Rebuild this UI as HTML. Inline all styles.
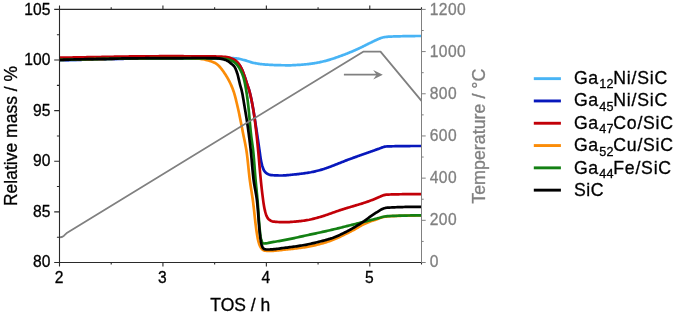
<!DOCTYPE html>
<html><head><meta charset="utf-8"><title>TGA</title>
<style>html,body{margin:0;padding:0;background:#fff}body{width:675px;height:314px;overflow:hidden}</style>
</head><body>
<svg width="675" height="314" viewBox="0 0 675 314" style="display:block;will-change:transform" font-family="&quot;Liberation Sans&quot;, sans-serif">
<rect width="675" height="314" fill="#fff"/>
<clipPath id="c"><rect x="59.5" y="9.4" width="362.0" height="253.1"/></clipPath>
<g clip-path="url(#c)" fill="none" stroke-linejoin="round" stroke-linecap="butt">
<path d="M59.50,60.20 L60.42,60.18 L61.34,60.15 L62.26,60.13 L63.18,60.11 L64.11,60.08 L65.03,60.06 L65.95,60.04 L66.87,60.01 L67.79,59.99 L68.71,59.97 L69.63,59.94 L70.55,59.92 L71.47,59.90 L72.40,59.87 L73.32,59.85 L74.24,59.83 L75.16,59.80 L76.08,59.78 L77.00,59.76 L77.92,59.74 L78.84,59.71 L79.76,59.69 L80.69,59.67 L81.61,59.64 L82.53,59.62 L83.45,59.60 L84.37,59.58 L85.29,59.55 L86.21,59.53 L87.13,59.51 L88.06,59.49 L88.98,59.46 L89.90,59.44 L90.82,59.42 L91.74,59.40 L92.66,59.38 L93.58,59.35 L94.50,59.33 L95.42,59.31 L96.35,59.29 L97.27,59.26 L98.19,59.24 L99.11,59.22 L100.03,59.20 L100.95,59.18 L101.87,59.15 L102.79,59.13 L103.71,59.11 L104.64,59.09 L105.56,59.06 L106.48,59.04 L107.40,59.02 L108.32,58.99 L109.24,58.97 L110.16,58.94 L111.08,58.92 L112.01,58.90 L112.93,58.87 L113.85,58.85 L114.77,58.83 L115.69,58.80 L116.61,58.78 L117.53,58.76 L118.45,58.73 L119.37,58.71 L120.30,58.69 L121.22,58.67 L122.14,58.64 L123.06,58.62 L123.98,58.60 L124.90,58.58 L125.82,58.56 L126.74,58.54 L127.67,58.52 L128.59,58.51 L129.51,58.49 L130.43,58.47 L131.35,58.46 L132.27,58.44 L133.19,58.43 L134.11,58.41 L135.04,58.40 L135.96,58.39 L136.88,58.37 L137.80,58.36 L138.72,58.35 L139.64,58.34 L140.56,58.32 L141.48,58.31 L142.41,58.30 L143.33,58.29 L144.25,58.27 L145.17,58.26 L146.09,58.25 L147.01,58.24 L147.93,58.22 L148.86,58.21 L149.78,58.20 L150.70,58.19 L151.62,58.18 L152.54,58.16 L153.46,58.15 L154.38,58.14 L155.30,58.13 L156.23,58.12 L157.15,58.11 L158.07,58.10 L158.99,58.08 L159.91,58.07 L160.83,58.06 L161.75,58.05 L162.68,58.04 L163.60,58.03 L164.52,58.02 L165.44,58.01 L166.36,58.00 L167.28,57.99 L168.20,57.98 L169.13,57.97 L170.05,57.96 L170.97,57.95 L171.89,57.94 L172.81,57.94 L173.73,57.93 L174.65,57.92 L175.58,57.91 L176.50,57.90 L177.42,57.90 L178.34,57.89 L179.26,57.88 L180.18,57.88 L181.10,57.87 L182.03,57.86 L182.95,57.86 L183.87,57.85 L184.79,57.85 L185.71,57.84 L186.63,57.84 L187.55,57.83 L188.48,57.83 L189.40,57.82 L190.32,57.82 L191.24,57.82 L192.16,57.81 L193.08,57.81 L194.00,57.81 L194.93,57.81 L195.85,57.80 L196.77,57.80 L197.69,57.80 L198.61,57.80 L199.53,57.80 L200.45,57.80 L201.38,57.80 L202.30,57.80 L203.22,57.80 L204.14,57.80 L205.06,57.80 L205.98,57.80 L206.90,57.80 L207.83,57.80 L208.75,57.80 L209.67,57.80 L210.59,57.80 L211.51,57.80 L212.43,57.80 L213.36,57.80 L214.28,57.80 L215.20,57.80 L216.12,57.80 L217.04,57.80 L217.96,57.80 L218.89,57.80 L219.81,57.80 L220.73,57.80 L221.65,57.80 L222.57,57.80 L223.49,57.80 L224.41,57.80 L225.33,57.80 L226.25,57.81 L227.18,57.83 L228.10,57.86 L229.02,57.90 L229.95,57.95 L230.87,58.00 L231.79,58.06 L232.71,58.13 L233.63,58.20 L234.54,58.27 L235.46,58.35 L236.37,58.44 L237.28,58.55 L238.18,58.69 L239.09,58.86 L239.99,59.05 L240.90,59.26 L241.80,59.48 L242.69,59.71 L243.59,59.94 L244.48,60.17 L245.38,60.40 L246.26,60.65 L247.14,60.92 L248.02,61.21 L248.90,61.51 L249.78,61.81 L250.65,62.10 L251.53,62.38 L252.42,62.63 L253.31,62.86 L254.20,63.04 L255.10,63.20 L256.01,63.36 L256.91,63.52 L257.82,63.66 L258.74,63.80 L259.65,63.94 L260.57,64.06 L261.49,64.17 L262.40,64.28 L263.32,64.38 L264.24,64.46 L265.16,64.54 L266.08,64.61 L267.00,64.66 L267.91,64.72 L268.83,64.77 L269.75,64.83 L270.67,64.87 L271.59,64.92 L272.51,64.96 L273.44,65.00 L274.36,65.04 L275.28,65.08 L276.20,65.11 L277.12,65.13 L278.04,65.16 L278.97,65.18 L279.89,65.20 L280.81,65.21 L281.73,65.23 L282.65,65.24 L283.57,65.26 L284.49,65.27 L285.42,65.28 L286.34,65.29 L287.26,65.29 L288.18,65.30 L289.10,65.30 L290.02,65.29 L290.94,65.28 L291.86,65.25 L292.79,65.22 L293.71,65.18 L294.63,65.13 L295.55,65.08 L296.47,65.02 L297.39,64.97 L298.31,64.91 L299.23,64.85 L300.15,64.79 L301.07,64.73 L301.98,64.66 L302.90,64.59 L303.82,64.51 L304.74,64.43 L305.66,64.34 L306.58,64.25 L307.50,64.15 L308.41,64.05 L309.33,63.94 L310.24,63.83 L311.15,63.71 L312.06,63.59 L312.98,63.46 L313.88,63.33 L314.79,63.18 L315.70,63.02 L316.61,62.85 L317.52,62.68 L318.42,62.50 L319.33,62.31 L320.23,62.11 L321.13,61.91 L322.03,61.71 L322.93,61.50 L323.82,61.29 L324.72,61.07 L325.61,60.85 L326.50,60.62 L327.38,60.37 L328.27,60.12 L329.15,59.86 L330.03,59.60 L330.92,59.32 L331.79,59.04 L332.67,58.75 L333.55,58.46 L334.42,58.16 L335.30,57.86 L336.17,57.56 L337.04,57.25 L337.91,56.94 L338.78,56.63 L339.65,56.33 L340.51,56.02 L341.38,55.70 L342.24,55.39 L343.11,55.07 L343.97,54.74 L344.83,54.41 L345.69,54.08 L346.55,53.75 L347.41,53.41 L348.26,53.06 L349.12,52.72 L349.97,52.37 L350.82,52.02 L351.68,51.66 L352.53,51.30 L353.37,50.94 L354.22,50.58 L355.06,50.21 L355.91,49.84 L356.75,49.47 L357.58,49.09 L358.42,48.70 L359.25,48.30 L360.08,47.90 L360.91,47.50 L361.73,47.09 L362.56,46.68 L363.38,46.26 L364.21,45.85 L365.03,45.44 L365.86,45.02 L366.68,44.61 L367.51,44.20 L368.34,43.80 L369.17,43.40 L370.00,43.00 L370.83,42.60 L371.66,42.20 L372.49,41.79 L373.32,41.38 L374.15,40.96 L374.98,40.56 L375.81,40.16 L376.65,39.77 L377.49,39.40 L378.33,39.04 L379.19,38.70 L380.04,38.38 L380.91,38.07 L381.79,37.77 L382.68,37.50 L383.57,37.28 L384.47,37.13 L385.38,37.00 L386.29,36.89 L387.21,36.79 L388.13,36.71 L389.06,36.65 L389.98,36.60 L390.90,36.57 L391.81,36.53 L392.73,36.50 L393.65,36.47 L394.57,36.44 L395.49,36.41 L396.41,36.38 L397.33,36.35 L398.25,36.33 L399.17,36.30 L400.09,36.28 L401.01,36.25 L401.93,36.23 L402.85,36.21 L403.77,36.19 L404.69,36.17 L405.61,36.15 L406.53,36.13 L407.45,36.12 L408.38,36.10 L409.30,36.09 L410.22,36.08 L411.14,36.06 L412.06,36.05 L412.99,36.04 L413.91,36.03 L414.83,36.03 L415.76,36.02 L416.68,36.01 L417.60,36.01 L418.53,36.00 L419.45,36.00 L420.38,36.00 L421.30,36.00" stroke="#48b4f5" stroke-width="2.7"/>
<path d="M59.50,60.20 L60.64,60.18 L61.78,60.16 L62.91,60.14 L64.05,60.12 L65.19,60.10 L66.33,60.07 L67.46,60.05 L68.60,60.03 L69.74,60.01 L70.88,59.99 L72.01,59.97 L73.15,59.94 L74.29,59.92 L75.43,59.90 L76.56,59.88 L77.70,59.86 L78.84,59.83 L79.98,59.81 L81.11,59.79 L82.25,59.77 L83.39,59.74 L84.53,59.72 L85.66,59.70 L86.80,59.67 L87.94,59.65 L89.08,59.63 L90.21,59.60 L91.35,59.58 L92.49,59.56 L93.63,59.53 L94.76,59.51 L95.90,59.49 L97.04,59.46 L98.18,59.44 L99.31,59.41 L100.45,59.39 L101.59,59.36 L102.73,59.34 L103.87,59.31 L105.00,59.28 L106.14,59.25 L107.28,59.22 L108.41,59.19 L109.55,59.16 L110.69,59.13 L111.83,59.09 L112.96,59.06 L114.10,59.03 L115.24,59.00 L116.38,58.96 L117.51,58.93 L118.65,58.90 L119.79,58.87 L120.93,58.84 L122.06,58.81 L123.20,58.79 L124.34,58.76 L125.48,58.74 L126.61,58.71 L127.75,58.69 L128.89,58.67 L130.03,58.65 L131.16,58.64 L132.30,58.62 L133.44,58.61 L134.58,58.60 L135.71,58.60 L136.85,58.59 L137.99,58.58 L139.13,58.58 L140.27,58.57 L141.40,58.56 L142.54,58.56 L143.68,58.55 L144.82,58.55 L145.95,58.54 L147.09,58.53 L148.23,58.53 L149.37,58.52 L150.50,58.52 L151.64,58.51 L152.78,58.51 L153.92,58.50 L155.06,58.50 L156.19,58.49 L157.33,58.49 L158.47,58.48 L159.61,58.48 L160.74,58.48 L161.88,58.47 L163.02,58.47 L164.16,58.46 L165.30,58.46 L166.43,58.46 L167.57,58.45 L168.71,58.45 L169.85,58.45 L170.99,58.44 L172.12,58.44 L173.26,58.44 L174.40,58.43 L175.54,58.43 L176.67,58.43 L177.81,58.42 L178.95,58.42 L180.09,58.42 L181.23,58.42 L182.36,58.42 L183.50,58.41 L184.64,58.41 L185.78,58.41 L186.92,58.41 L188.05,58.41 L189.19,58.41 L190.33,58.40 L191.47,58.40 L192.60,58.40 L193.74,58.40 L194.88,58.40 L196.02,58.40 L197.16,58.40 L198.29,58.40 L199.43,58.40 L200.57,58.40 L201.71,58.40 L202.85,58.40 L203.99,58.40 L205.13,58.40 L206.27,58.41 L207.41,58.41 L208.55,58.41 L209.69,58.42 L210.82,58.42 L211.96,58.43 L213.10,58.43 L214.24,58.44 L215.38,58.45 L216.52,58.45 L217.65,58.46 L218.79,58.47 L219.92,58.48 L221.05,58.49 L222.19,58.50 L223.32,58.55 L224.46,58.64 L225.60,58.78 L226.74,58.95 L227.87,59.14 L228.99,59.36 L230.10,59.60 L231.19,59.84 L232.29,60.15 L233.41,60.53 L234.51,60.99 L235.55,61.50 L236.50,62.06 L237.35,62.67 L238.13,63.42 L238.87,64.29 L239.56,65.25 L240.20,66.26 L240.79,67.28 L241.34,68.28 L241.84,69.27 L242.31,70.30 L242.75,71.35 L243.17,72.42 L243.57,73.50 L243.95,74.58 L244.34,75.66 L244.72,76.73 L245.09,77.81 L245.45,78.89 L245.79,79.97 L246.14,81.06 L246.48,82.14 L246.82,83.23 L247.17,84.31 L247.54,85.39 L247.91,86.46 L248.29,87.54 L248.67,88.62 L249.02,89.70 L249.34,90.78 L249.63,91.88 L249.91,92.98 L250.18,94.08 L250.44,95.19 L250.70,96.30 L250.94,97.41 L251.18,98.52 L251.41,99.64 L251.63,100.76 L251.85,101.88 L252.07,102.99 L252.28,104.12 L252.49,105.24 L252.70,106.36 L252.90,107.47 L253.11,108.59 L253.31,109.71 L253.50,110.83 L253.69,111.95 L253.88,113.08 L254.06,114.20 L254.24,115.32 L254.41,116.45 L254.59,117.57 L254.76,118.70 L254.93,119.82 L255.10,120.95 L255.28,122.07 L255.45,123.20 L255.62,124.32 L255.79,125.45 L255.97,126.57 L256.14,127.70 L256.31,128.82 L256.48,129.95 L256.65,131.07 L256.82,132.20 L256.99,133.32 L257.16,134.45 L257.33,135.57 L257.50,136.70 L257.66,137.82 L257.83,138.95 L258.00,140.07 L258.16,141.20 L258.33,142.33 L258.49,143.45 L258.66,144.58 L258.82,145.70 L258.99,146.83 L259.15,147.95 L259.32,149.08 L259.48,150.21 L259.65,151.33 L259.81,152.46 L259.96,153.59 L260.11,154.72 L260.26,155.85 L260.42,156.97 L260.58,158.10 L260.76,159.22 L260.96,160.34 L261.18,161.46 L261.42,162.57 L261.68,163.68 L261.96,164.79 L262.26,165.88 L262.60,166.97 L262.96,168.08 L263.38,169.16 L263.85,170.19 L264.41,171.12 L265.13,172.02 L265.97,172.85 L266.88,173.53 L267.84,174.07 L268.91,174.56 L270.02,174.93 L271.13,175.11 L272.23,175.20 L273.35,175.27 L274.49,175.33 L275.63,175.39 L276.78,175.43 L277.93,175.46 L279.08,175.49 L280.22,175.50 L281.36,175.50 L282.50,175.48 L283.63,175.44 L284.77,175.38 L285.90,175.30 L287.04,175.21 L288.17,175.11 L289.31,175.00 L290.44,174.88 L291.58,174.76 L292.71,174.64 L293.84,174.52 L294.97,174.40 L296.11,174.29 L297.24,174.17 L298.37,174.04 L299.50,173.91 L300.63,173.78 L301.76,173.63 L302.89,173.49 L304.02,173.33 L305.15,173.17 L306.27,173.00 L307.40,172.83 L308.52,172.65 L309.64,172.46 L310.76,172.27 L311.87,172.05 L312.99,171.82 L314.10,171.58 L315.22,171.33 L316.32,171.06 L317.43,170.78 L318.53,170.50 L319.63,170.20 L320.72,169.90 L321.80,169.59 L322.89,169.26 L323.97,168.92 L325.05,168.57 L326.12,168.21 L327.20,167.84 L328.27,167.46 L329.33,167.07 L330.40,166.67 L331.47,166.27 L332.53,165.86 L333.59,165.45 L334.65,165.03 L335.71,164.61 L336.77,164.19 L337.83,163.76 L338.89,163.34 L339.95,162.91 L341.01,162.48 L342.07,162.06 L343.13,161.63 L344.19,161.21 L345.25,160.80 L346.32,160.38 L347.38,159.98 L348.45,159.57 L349.51,159.18 L350.58,158.79 L351.65,158.40 L352.72,158.02 L353.79,157.63 L354.86,157.25 L355.94,156.87 L357.01,156.48 L358.08,156.10 L359.15,155.72 L360.23,155.34 L361.30,154.97 L362.37,154.59 L363.44,154.21 L364.52,153.83 L365.59,153.45 L366.66,153.07 L367.74,152.69 L368.81,152.31 L369.88,151.93 L370.95,151.55 L372.03,151.17 L373.10,150.79 L374.17,150.41 L375.24,150.02 L376.31,149.64 L377.38,149.25 L378.45,148.86 L379.52,148.48 L380.59,148.07 L381.64,147.63 L382.71,147.23 L383.80,146.93 L384.91,146.68 L386.04,146.48 L387.17,146.40 L388.29,146.36 L389.42,146.33 L390.55,146.31 L391.68,146.28 L392.81,146.25 L393.94,146.23 L395.07,146.21 L396.20,146.19 L397.33,146.17 L398.47,146.15 L399.60,146.13 L400.73,146.12 L401.87,146.10 L403.00,146.09 L404.14,146.08 L405.28,146.07 L406.41,146.06 L407.55,146.05 L408.69,146.04 L409.83,146.03 L410.98,146.02 L412.12,146.02 L413.26,146.01 L414.41,146.01 L415.55,146.01 L416.70,146.00 L417.85,146.00 L419.00,146.00 L420.15,146.00 L421.30,146.00" stroke="#0818bc" stroke-width="2.7"/>
<path d="M59.50,57.70 L60.75,57.68 L62.00,57.66 L63.25,57.64 L64.49,57.61 L65.74,57.59 L66.99,57.57 L68.24,57.55 L69.49,57.53 L70.74,57.51 L71.98,57.48 L73.23,57.46 L74.48,57.44 L75.73,57.42 L76.98,57.40 L78.23,57.38 L79.47,57.35 L80.72,57.33 L81.97,57.31 L83.22,57.29 L84.47,57.27 L85.72,57.25 L86.96,57.22 L88.21,57.20 L89.46,57.18 L90.71,57.16 L91.96,57.14 L93.21,57.12 L94.46,57.10 L95.70,57.07 L96.95,57.05 L98.20,57.03 L99.45,57.01 L100.70,56.99 L101.95,56.97 L103.19,56.94 L104.44,56.92 L105.69,56.90 L106.94,56.87 L108.19,56.85 L109.44,56.82 L110.68,56.80 L111.93,56.77 L113.18,56.75 L114.43,56.72 L115.68,56.70 L116.93,56.67 L118.17,56.65 L119.42,56.63 L120.67,56.60 L121.92,56.58 L123.17,56.56 L124.42,56.54 L125.67,56.52 L126.91,56.50 L128.16,56.48 L129.41,56.46 L130.66,56.45 L131.91,56.43 L133.16,56.42 L134.40,56.41 L135.65,56.39 L136.90,56.38 L138.15,56.37 L139.40,56.36 L140.65,56.35 L141.90,56.34 L143.14,56.33 L144.39,56.32 L145.64,56.31 L146.89,56.30 L148.14,56.29 L149.39,56.28 L150.64,56.27 L151.88,56.27 L153.13,56.26 L154.38,56.25 L155.63,56.24 L156.88,56.24 L158.13,56.23 L159.38,56.22 L160.62,56.22 L161.87,56.21 L163.12,56.21 L164.37,56.21 L165.62,56.20 L166.87,56.20 L168.12,56.20 L169.36,56.20 L170.61,56.20 L171.86,56.20 L173.11,56.20 L174.36,56.20 L175.61,56.20 L176.86,56.21 L178.10,56.21 L179.35,56.21 L180.60,56.22 L181.85,56.22 L183.10,56.22 L184.35,56.23 L185.60,56.23 L186.84,56.24 L188.09,56.24 L189.34,56.25 L190.59,56.25 L191.84,56.26 L193.09,56.26 L194.34,56.27 L195.58,56.28 L196.83,56.28 L198.08,56.29 L199.33,56.30 L200.58,56.30 L201.83,56.31 L203.08,56.32 L204.33,56.33 L205.57,56.34 L206.82,56.35 L208.07,56.36 L209.32,56.37 L210.57,56.38 L211.82,56.40 L213.07,56.41 L214.32,56.43 L215.56,56.45 L216.81,56.48 L218.06,56.50 L219.31,56.54 L220.56,56.59 L221.82,56.66 L223.07,56.74 L224.31,56.84 L225.54,56.95 L226.77,57.10 L228.01,57.33 L229.24,57.65 L230.45,58.02 L231.64,58.44 L232.77,58.90 L233.88,59.43 L234.95,60.11 L235.98,60.88 L236.90,61.70 L237.74,62.58 L238.53,63.54 L239.27,64.56 L239.97,65.64 L240.62,66.73 L241.21,67.83 L241.76,68.93 L242.26,70.06 L242.73,71.22 L243.18,72.39 L243.61,73.58 L244.02,74.76 L244.44,75.95 L244.85,77.12 L245.25,78.31 L245.64,79.49 L246.02,80.68 L246.39,81.88 L246.77,83.07 L247.15,84.25 L247.55,85.44 L247.97,86.62 L248.39,87.80 L248.79,88.98 L249.16,90.17 L249.50,91.37 L249.81,92.57 L250.11,93.78 L250.41,94.99 L250.69,96.21 L250.96,97.43 L251.23,98.65 L251.48,99.88 L251.73,101.10 L251.97,102.33 L252.21,103.56 L252.43,104.79 L252.65,106.02 L252.87,107.25 L253.08,108.48 L253.29,109.71 L253.49,110.94 L253.68,112.17 L253.87,113.41 L254.05,114.64 L254.23,115.88 L254.41,117.12 L254.58,118.35 L254.74,119.59 L254.91,120.83 L255.07,122.07 L255.23,123.31 L255.38,124.55 L255.53,125.79 L255.68,127.02 L255.83,128.26 L255.98,129.50 L256.12,130.74 L256.26,131.98 L256.40,133.23 L256.53,134.47 L256.67,135.71 L256.80,136.95 L256.93,138.19 L257.06,139.43 L257.18,140.68 L257.31,141.92 L257.43,143.16 L257.56,144.40 L257.68,145.65 L257.80,146.89 L257.92,148.13 L258.04,149.38 L258.16,150.62 L258.28,151.86 L258.40,153.10 L258.51,154.35 L258.63,155.59 L258.74,156.83 L258.84,158.08 L258.95,159.32 L259.06,160.57 L259.16,161.81 L259.27,163.06 L259.37,164.30 L259.48,165.54 L259.58,166.79 L259.69,168.03 L259.80,169.28 L259.91,170.52 L260.02,171.76 L260.13,173.01 L260.24,174.25 L260.36,175.49 L260.48,176.74 L260.60,177.98 L260.72,179.22 L260.85,180.46 L260.97,181.71 L261.10,182.95 L261.23,184.19 L261.36,185.43 L261.49,186.68 L261.63,187.92 L261.77,189.16 L261.91,190.40 L262.06,191.64 L262.21,192.88 L262.36,194.12 L262.52,195.35 L262.68,196.59 L262.84,197.83 L263.00,199.08 L263.16,200.32 L263.33,201.57 L263.50,202.81 L263.68,204.06 L263.88,205.29 L264.09,206.52 L264.32,207.74 L264.57,208.95 L264.84,210.15 L265.14,211.40 L265.48,212.68 L265.86,213.98 L266.30,215.24 L266.78,216.44 L267.32,217.52 L267.92,218.45 L268.63,219.24 L269.60,220.01 L270.75,220.71 L271.99,221.26 L273.22,221.58 L274.39,221.70 L275.60,221.81 L276.83,221.91 L278.08,221.99 L279.34,222.06 L280.62,222.12 L281.89,222.16 L283.16,222.18 L284.42,222.20 L285.67,222.20 L286.92,222.17 L288.17,222.11 L289.41,222.04 L290.66,221.95 L291.91,221.85 L293.15,221.75 L294.40,221.65 L295.64,221.55 L296.89,221.44 L298.13,221.32 L299.38,221.19 L300.62,221.05 L301.86,220.90 L303.10,220.74 L304.34,220.57 L305.57,220.39 L306.80,220.20 L308.02,219.99 L309.25,219.76 L310.47,219.50 L311.69,219.22 L312.90,218.93 L314.12,218.62 L315.33,218.30 L316.54,217.97 L317.74,217.63 L318.95,217.30 L320.15,216.96 L321.34,216.61 L322.53,216.25 L323.72,215.88 L324.91,215.49 L326.09,215.09 L327.27,214.68 L328.45,214.27 L329.63,213.85 L330.80,213.43 L331.98,213.01 L333.16,212.58 L334.33,212.16 L335.51,211.74 L336.69,211.32 L337.87,210.91 L339.05,210.51 L340.24,210.12 L341.43,209.74 L342.62,209.36 L343.81,208.99 L345.01,208.62 L346.20,208.26 L347.40,207.90 L348.60,207.54 L349.80,207.19 L351.00,206.83 L352.20,206.48 L353.40,206.12 L354.60,205.77 L355.79,205.41 L356.99,205.06 L358.19,204.70 L359.38,204.33 L360.58,203.96 L361.77,203.59 L362.96,203.21 L364.14,202.83 L365.33,202.44 L366.51,202.04 L367.68,201.63 L368.86,201.22 L370.03,200.79 L371.19,200.35 L372.35,199.88 L373.50,199.40 L374.65,198.90 L375.79,198.40 L376.94,197.90 L378.08,197.41 L379.23,196.92 L380.39,196.44 L381.54,195.92 L382.69,195.44 L383.88,195.11 L385.11,194.84 L386.35,194.65 L387.59,194.58 L388.82,194.54 L390.06,194.50 L391.30,194.46 L392.54,194.43 L393.78,194.40 L395.02,194.37 L396.26,194.34 L397.50,194.31 L398.75,194.29 L399.99,194.26 L401.24,194.24 L402.48,194.22 L403.73,194.21 L404.97,194.19 L406.22,194.17 L407.47,194.16 L408.72,194.15 L409.98,194.14 L411.23,194.13 L412.48,194.12 L413.74,194.12 L415.00,194.11 L416.25,194.11 L417.51,194.10 L418.77,194.10 L420.04,194.10 L421.30,194.10" stroke="#c20008" stroke-width="2.7"/>
<path d="M59.50,59.90 L60.80,59.87 L62.09,59.85 L63.39,59.82 L64.68,59.80 L65.98,59.77 L67.28,59.75 L68.57,59.72 L69.87,59.70 L71.16,59.67 L72.46,59.65 L73.76,59.62 L75.05,59.59 L76.35,59.57 L77.65,59.54 L78.94,59.52 L80.24,59.49 L81.53,59.47 L82.83,59.44 L84.13,59.41 L85.42,59.39 L86.72,59.36 L88.01,59.34 L89.31,59.31 L90.61,59.29 L91.90,59.26 L93.20,59.24 L94.49,59.21 L95.79,59.18 L97.09,59.16 L98.38,59.13 L99.68,59.11 L100.97,59.08 L102.27,59.05 L103.57,59.03 L104.86,59.00 L106.16,58.97 L107.45,58.94 L108.75,58.91 L110.05,58.88 L111.34,58.85 L112.64,58.82 L113.94,58.80 L115.23,58.77 L116.53,58.74 L117.82,58.71 L119.12,58.68 L120.42,58.65 L121.71,58.63 L123.01,58.60 L124.30,58.57 L125.60,58.55 L126.90,58.52 L128.19,58.50 L129.49,58.48 L130.78,58.46 L132.08,58.44 L133.38,58.42 L134.67,58.40 L135.97,58.39 L137.27,58.37 L138.56,58.36 L139.86,58.34 L141.15,58.33 L142.45,58.31 L143.75,58.29 L145.04,58.28 L146.34,58.26 L147.64,58.25 L148.93,58.23 L150.23,58.22 L151.53,58.20 L152.82,58.19 L154.12,58.18 L155.42,58.16 L156.71,58.15 L158.01,58.14 L159.31,58.13 L160.60,58.11 L161.90,58.10 L163.19,58.09 L164.49,58.08 L165.79,58.07 L167.08,58.06 L168.38,58.05 L169.68,58.04 L170.97,58.04 L172.27,58.03 L173.57,58.02 L174.86,58.02 L176.16,58.01 L177.45,58.01 L178.75,58.00 L180.04,58.00 L181.34,58.00 L182.64,58.00 L183.93,58.00 L185.23,58.02 L186.53,58.04 L187.83,58.08 L189.13,58.12 L190.43,58.17 L191.73,58.24 L193.03,58.31 L194.32,58.38 L195.61,58.47 L196.91,58.56 L198.19,58.66 L199.48,58.76 L200.76,58.87 L202.04,59.05 L203.31,59.27 L204.59,59.54 L205.86,59.85 L207.12,60.18 L208.38,60.53 L209.62,60.89 L210.86,61.26 L212.13,61.68 L213.37,62.15 L214.55,62.68 L215.62,63.28 L216.63,63.95 L217.60,64.73 L218.54,65.59 L219.46,66.51 L220.34,67.50 L221.20,68.54 L222.02,69.61 L222.83,70.71 L223.60,71.81 L224.35,72.92 L225.07,74.02 L225.76,75.10 L226.44,76.17 L227.10,77.27 L227.75,78.39 L228.39,79.52 L229.01,80.68 L229.61,81.84 L230.19,83.02 L230.75,84.21 L231.29,85.40 L231.80,86.60 L232.30,87.81 L232.76,89.02 L233.20,90.23 L233.62,91.44 L234.01,92.66 L234.39,93.90 L234.75,95.14 L235.09,96.39 L235.42,97.65 L235.74,98.91 L236.05,100.18 L236.36,101.45 L236.66,102.71 L236.96,103.98 L237.26,105.24 L237.55,106.50 L237.84,107.76 L238.13,109.03 L238.41,110.29 L238.69,111.56 L238.96,112.82 L239.23,114.09 L239.49,115.36 L239.76,116.63 L240.02,117.90 L240.28,119.17 L240.53,120.44 L240.78,121.71 L241.04,122.99 L241.29,124.26 L241.54,125.53 L241.79,126.81 L242.04,128.08 L242.29,129.35 L242.54,130.62 L242.79,131.90 L243.04,133.17 L243.29,134.44 L243.54,135.71 L243.80,136.98 L244.07,138.25 L244.33,139.52 L244.60,140.79 L244.86,142.06 L245.12,143.33 L245.38,144.61 L245.62,145.88 L245.86,147.15 L246.09,148.43 L246.30,149.71 L246.50,150.98 L246.68,152.26 L246.86,153.55 L247.02,154.83 L247.19,156.12 L247.34,157.40 L247.49,158.69 L247.63,159.98 L247.77,161.27 L247.91,162.56 L248.04,163.85 L248.17,165.14 L248.30,166.43 L248.43,167.72 L248.56,169.01 L248.70,170.30 L248.83,171.59 L248.97,172.88 L249.11,174.17 L249.25,175.46 L249.40,176.75 L249.55,178.04 L249.71,179.32 L249.88,180.61 L250.06,181.89 L250.24,183.17 L250.43,184.46 L250.62,185.74 L250.82,187.02 L251.01,188.30 L251.22,189.58 L251.42,190.86 L251.62,192.14 L251.82,193.42 L252.02,194.71 L252.22,195.99 L252.41,197.27 L252.60,198.55 L252.78,199.84 L252.95,201.12 L253.12,202.41 L253.28,203.69 L253.44,204.98 L253.59,206.27 L253.75,207.56 L253.89,208.85 L254.04,210.14 L254.18,211.43 L254.32,212.72 L254.46,214.01 L254.60,215.30 L254.74,216.59 L254.88,217.88 L255.03,219.17 L255.17,220.46 L255.32,221.75 L255.47,223.04 L255.62,224.33 L255.78,225.61 L255.95,226.90 L256.11,228.18 L256.29,229.46 L256.47,230.75 L256.66,232.03 L256.86,233.30 L257.06,234.58 L257.27,235.85 L257.50,237.13 L257.74,238.41 L258.00,239.70 L258.29,240.97 L258.62,242.22 L258.98,243.44 L259.41,244.68 L259.93,245.92 L260.54,247.11 L261.23,248.17 L262.06,249.10 L263.12,250.00 L264.29,250.56 L265.48,250.70 L266.77,250.80 L268.10,250.86 L269.43,250.90 L270.73,250.89 L272.03,250.86 L273.32,250.79 L274.61,250.71 L275.90,250.60 L277.19,250.47 L278.49,250.33 L279.78,250.18 L281.07,250.04 L282.36,249.89 L283.65,249.74 L284.94,249.61 L286.23,249.48 L287.52,249.35 L288.81,249.21 L290.10,249.08 L291.39,248.94 L292.68,248.80 L293.97,248.66 L295.26,248.51 L296.55,248.35 L297.83,248.20 L299.12,248.03 L300.41,247.86 L301.69,247.69 L302.97,247.50 L304.25,247.31 L305.53,247.12 L306.80,246.90 L308.08,246.68 L309.36,246.43 L310.63,246.18 L311.90,245.91 L313.17,245.64 L314.44,245.35 L315.70,245.06 L316.96,244.75 L318.21,244.45 L319.47,244.13 L320.72,243.80 L321.98,243.45 L323.23,243.10 L324.47,242.73 L325.72,242.35 L326.96,241.96 L328.19,241.56 L329.42,241.14 L330.64,240.72 L331.85,240.28 L333.06,239.83 L334.26,239.35 L335.45,238.85 L336.64,238.34 L337.82,237.80 L339.00,237.26 L340.18,236.70 L341.35,236.14 L342.52,235.57 L343.68,234.99 L344.85,234.41 L346.01,233.84 L347.17,233.26 L348.34,232.69 L349.49,232.10 L350.65,231.51 L351.80,230.91 L352.94,230.31 L354.09,229.69 L355.23,229.08 L356.35,228.44 L357.47,227.78 L358.59,227.11 L359.70,226.44 L360.82,225.78 L361.95,225.15 L363.09,224.55 L364.26,223.99 L365.44,223.45 L366.63,222.94 L367.83,222.44 L369.04,221.96 L370.25,221.51 L371.47,221.08 L372.70,220.67 L373.94,220.28 L375.17,219.88 L376.40,219.46 L377.62,219.00 L378.83,218.51 L380.05,218.03 L381.27,217.59 L382.51,217.22 L383.76,216.95 L385.03,216.74 L386.31,216.55 L387.61,216.39 L388.90,216.27 L390.19,216.19 L391.49,216.14 L392.78,216.08 L394.07,216.03 L395.36,215.98 L396.65,215.93 L397.94,215.89 L399.24,215.85 L400.53,215.81 L401.82,215.77 L403.12,215.74 L404.41,215.70 L405.71,215.67 L407.00,215.65 L408.30,215.62 L409.60,215.60 L410.89,215.58 L412.19,215.56 L413.49,215.54 L414.79,215.53 L416.09,215.52 L417.39,215.51 L418.69,215.50 L420.00,215.50 L421.30,215.50" stroke="#fb8c08" stroke-width="2.7"/>
<path d="M59.50,59.90 L60.81,59.87 L62.12,59.83 L63.43,59.80 L64.73,59.76 L66.04,59.73 L67.35,59.70 L68.66,59.67 L69.97,59.63 L71.28,59.60 L72.58,59.57 L73.89,59.54 L75.20,59.51 L76.51,59.48 L77.82,59.45 L79.13,59.42 L80.44,59.39 L81.74,59.36 L83.05,59.33 L84.36,59.30 L85.67,59.28 L86.98,59.25 L88.29,59.22 L89.60,59.19 L90.90,59.17 L92.21,59.14 L93.52,59.12 L94.83,59.09 L96.14,59.07 L97.45,59.05 L98.76,59.02 L100.06,59.00 L101.37,58.98 L102.68,58.95 L103.99,58.93 L105.30,58.91 L106.61,58.88 L107.92,58.86 L109.22,58.84 L110.53,58.81 L111.84,58.79 L113.15,58.77 L114.46,58.75 L115.77,58.73 L117.08,58.70 L118.39,58.68 L119.69,58.66 L121.00,58.65 L122.31,58.63 L123.62,58.61 L124.93,58.59 L126.24,58.58 L127.55,58.56 L128.86,58.55 L130.16,58.54 L131.47,58.52 L132.78,58.51 L134.09,58.51 L135.40,58.50 L136.71,58.49 L138.02,58.48 L139.33,58.48 L140.63,58.47 L141.94,58.46 L143.25,58.46 L144.56,58.45 L145.87,58.44 L147.18,58.44 L148.49,58.43 L149.80,58.43 L151.11,58.42 L152.41,58.41 L153.72,58.41 L155.03,58.40 L156.34,58.40 L157.65,58.39 L158.96,58.39 L160.27,58.38 L161.58,58.38 L162.89,58.37 L164.19,58.37 L165.50,58.36 L166.81,58.36 L168.12,58.35 L169.43,58.35 L170.74,58.35 L172.05,58.34 L173.36,58.34 L174.66,58.33 L175.97,58.33 L177.28,58.33 L178.59,58.33 L179.90,58.32 L181.21,58.32 L182.52,58.32 L183.83,58.31 L185.14,58.31 L186.44,58.31 L187.75,58.31 L189.06,58.31 L190.37,58.31 L191.68,58.30 L192.99,58.30 L194.30,58.30 L195.61,58.30 L196.92,58.30 L198.22,58.30 L199.53,58.30 L200.84,58.30 L202.15,58.30 L203.46,58.30 L204.77,58.30 L206.09,58.31 L207.40,58.31 L208.71,58.32 L210.02,58.32 L211.33,58.33 L212.64,58.34 L213.95,58.35 L215.26,58.36 L216.56,58.37 L217.87,58.38 L219.17,58.39 L220.47,58.41 L221.78,58.49 L223.09,58.63 L224.41,58.82 L225.71,59.06 L227.00,59.33 L228.26,59.62 L229.50,59.94 L230.74,60.37 L231.97,60.91 L233.15,61.54 L234.25,62.23 L235.25,62.99 L236.19,63.91 L237.07,64.92 L237.89,65.97 L238.64,67.03 L239.34,68.13 L240.01,69.27 L240.62,70.43 L241.20,71.61 L241.75,72.79 L242.28,74.00 L242.76,75.22 L243.19,76.45 L243.56,77.70 L243.90,78.96 L244.21,80.23 L244.50,81.52 L244.77,82.80 L245.04,84.08 L245.30,85.37 L245.54,86.65 L245.78,87.94 L246.01,89.23 L246.22,90.52 L246.43,91.81 L246.63,93.11 L246.82,94.40 L247.01,95.70 L247.19,96.99 L247.36,98.29 L247.54,99.59 L247.70,100.89 L247.86,102.19 L248.02,103.48 L248.18,104.78 L248.32,106.08 L248.47,107.38 L248.60,108.69 L248.74,109.99 L248.86,111.29 L248.99,112.59 L249.11,113.90 L249.23,115.20 L249.35,116.50 L249.46,117.81 L249.58,119.11 L249.69,120.42 L249.81,121.72 L249.92,123.02 L250.04,124.33 L250.16,125.63 L250.28,126.94 L250.40,128.24 L250.53,129.54 L250.66,130.84 L250.79,132.15 L250.93,133.45 L251.07,134.75 L251.22,136.05 L251.38,137.35 L251.56,138.64 L251.73,139.94 L251.92,141.24 L252.10,142.53 L252.29,143.83 L252.47,145.13 L252.65,146.42 L252.82,147.72 L252.98,149.02 L253.13,150.32 L253.26,151.62 L253.39,152.92 L253.52,154.22 L253.64,155.53 L253.75,156.83 L253.87,158.13 L253.98,159.44 L254.08,160.74 L254.19,162.05 L254.29,163.35 L254.39,164.66 L254.49,165.96 L254.59,167.27 L254.69,168.57 L254.78,169.88 L254.88,171.19 L254.98,172.49 L255.09,173.80 L255.19,175.10 L255.29,176.41 L255.40,177.71 L255.51,179.01 L255.63,180.32 L255.75,181.62 L255.87,182.93 L255.99,184.23 L256.11,185.53 L256.24,186.83 L256.37,188.14 L256.49,189.44 L256.62,190.74 L256.75,192.04 L256.88,193.35 L257.00,194.65 L257.13,195.95 L257.25,197.26 L257.37,198.56 L257.49,199.86 L257.60,201.17 L257.71,202.47 L257.81,203.78 L257.91,205.09 L258.01,206.39 L258.10,207.70 L258.19,209.01 L258.28,210.32 L258.37,211.63 L258.45,212.94 L258.54,214.25 L258.63,215.56 L258.71,216.87 L258.80,218.18 L258.89,219.49 L258.99,220.79 L259.08,222.10 L259.19,223.41 L259.29,224.71 L259.40,226.01 L259.52,227.32 L259.64,228.62 L259.77,229.92 L259.91,231.21 L260.06,232.51 L260.21,233.80 L260.38,235.09 L260.55,236.38 L260.76,237.69 L261.03,239.00 L261.36,240.26 L261.79,241.49 L262.48,242.87 L263.37,243.50 L264.62,243.47 L266.01,243.40 L267.30,243.22 L268.58,242.92 L269.86,242.63 L271.15,242.39 L272.44,242.16 L273.73,241.93 L275.02,241.72 L276.31,241.50 L277.60,241.29 L278.89,241.07 L280.18,240.86 L281.47,240.64 L282.76,240.41 L284.05,240.18 L285.34,239.94 L286.62,239.68 L287.90,239.43 L289.18,239.17 L290.46,238.90 L291.74,238.62 L293.02,238.35 L294.30,238.07 L295.58,237.79 L296.86,237.50 L298.14,237.22 L299.42,236.93 L300.69,236.65 L301.97,236.37 L303.25,236.08 L304.53,235.80 L305.81,235.52 L307.09,235.25 L308.37,234.97 L309.65,234.69 L310.92,234.42 L312.20,234.14 L313.48,233.87 L314.76,233.59 L316.04,233.31 L317.32,233.04 L318.60,232.76 L319.88,232.48 L321.16,232.20 L322.44,231.92 L323.72,231.64 L324.99,231.35 L326.27,231.06 L327.55,230.78 L328.82,230.49 L330.10,230.19 L331.37,229.90 L332.65,229.60 L333.92,229.30 L335.19,229.00 L336.47,228.69 L337.74,228.38 L339.01,228.07 L340.28,227.76 L341.55,227.45 L342.82,227.13 L344.09,226.81 L345.36,226.50 L346.63,226.18 L347.90,225.86 L349.17,225.54 L350.44,225.22 L351.71,224.90 L352.98,224.58 L354.25,224.26 L355.52,223.95 L356.79,223.63 L358.06,223.31 L359.33,222.99 L360.60,222.68 L361.87,222.36 L363.14,222.04 L364.41,221.72 L365.67,221.40 L366.94,221.08 L368.21,220.76 L369.48,220.43 L370.75,220.11 L372.02,219.79 L373.28,219.46 L374.55,219.14 L375.82,218.81 L377.09,218.48 L378.35,218.15 L379.62,217.81 L380.87,217.44 L382.13,217.05 L383.39,216.72 L384.68,216.48 L385.98,216.29 L387.28,216.19 L388.58,216.12 L389.88,216.06 L391.18,216.01 L392.48,215.95 L393.78,215.90 L395.09,215.85 L396.39,215.81 L397.69,215.76 L399.00,215.72 L400.30,215.68 L401.61,215.65 L402.92,215.61 L404.22,215.58 L405.53,215.56 L406.84,215.53 L408.15,215.51 L409.46,215.49 L410.77,215.47 L412.09,215.45 L413.40,215.44 L414.71,215.43 L416.03,215.42 L417.34,215.41 L418.66,215.40 L419.98,215.40 L421.30,215.40" stroke="#138013" stroke-width="2.7"/>
<path d="M59.50,59.80 L60.83,59.77 L62.15,59.73 L63.48,59.70 L64.81,59.67 L66.13,59.64 L67.46,59.61 L68.79,59.57 L70.11,59.54 L71.44,59.51 L72.77,59.48 L74.09,59.45 L75.42,59.42 L76.75,59.39 L78.07,59.36 L79.40,59.33 L80.73,59.30 L82.05,59.27 L83.38,59.24 L84.71,59.21 L86.04,59.18 L87.36,59.16 L88.69,59.13 L90.02,59.10 L91.34,59.07 L92.67,59.05 L94.00,59.02 L95.32,58.99 L96.65,58.97 L97.98,58.94 L99.30,58.91 L100.63,58.89 L101.96,58.86 L103.28,58.84 L104.61,58.81 L105.94,58.78 L107.26,58.75 L108.59,58.73 L109.92,58.70 L111.25,58.67 L112.57,58.65 L113.90,58.62 L115.23,58.59 L116.55,58.57 L117.88,58.54 L119.21,58.52 L120.53,58.49 L121.86,58.47 L123.19,58.45 L124.51,58.43 L125.84,58.41 L127.17,58.39 L128.50,58.37 L129.82,58.35 L131.15,58.34 L132.48,58.32 L133.80,58.31 L135.13,58.30 L136.46,58.29 L137.78,58.28 L139.11,58.27 L140.44,58.26 L141.77,58.25 L143.09,58.24 L144.42,58.23 L145.75,58.22 L147.07,58.21 L148.40,58.20 L149.73,58.19 L151.05,58.18 L152.38,58.18 L153.71,58.17 L155.04,58.16 L156.36,58.15 L157.69,58.14 L159.02,58.13 L160.34,58.13 L161.67,58.12 L163.00,58.11 L164.33,58.10 L165.65,58.10 L166.98,58.09 L168.31,58.08 L169.63,58.08 L170.96,58.07 L172.29,58.06 L173.62,58.06 L174.94,58.05 L176.27,58.05 L177.60,58.04 L178.92,58.04 L180.25,58.03 L181.58,58.03 L182.91,58.03 L184.23,58.02 L185.56,58.02 L186.89,58.02 L188.21,58.01 L189.54,58.01 L190.87,58.01 L192.20,58.01 L193.52,58.00 L194.85,58.00 L196.18,58.00 L197.50,58.00 L198.83,58.00 L200.16,58.00 L201.49,58.00 L202.82,58.01 L204.15,58.01 L205.48,58.02 L206.81,58.04 L208.14,58.05 L209.47,58.07 L210.79,58.09 L212.12,58.11 L213.44,58.14 L214.76,58.17 L216.08,58.20 L217.41,58.28 L218.75,58.43 L220.09,58.63 L221.42,58.89 L222.72,59.19 L223.99,59.51 L225.21,59.86 L226.40,60.34 L227.56,60.97 L228.70,61.71 L229.80,62.52 L230.87,63.37 L231.90,64.22 L232.93,65.08 L233.89,66.03 L234.66,67.05 L235.29,68.18 L235.84,69.40 L236.34,70.66 L236.78,71.94 L237.20,73.20 L237.58,74.47 L237.93,75.74 L238.25,77.03 L238.56,78.32 L238.86,79.62 L239.16,80.92 L239.46,82.21 L239.77,83.51 L240.10,84.79 L240.46,86.07 L240.83,87.35 L241.20,88.63 L241.54,89.91 L241.84,91.20 L242.12,92.49 L242.38,93.79 L242.63,95.09 L242.86,96.40 L243.09,97.71 L243.31,99.02 L243.53,100.33 L243.74,101.64 L243.96,102.95 L244.18,104.26 L244.40,105.57 L244.62,106.88 L244.84,108.19 L245.06,109.49 L245.28,110.80 L245.50,112.11 L245.72,113.42 L245.94,114.73 L246.15,116.04 L246.36,117.35 L246.57,118.66 L246.78,119.97 L246.98,121.29 L247.18,122.60 L247.37,123.91 L247.56,125.22 L247.75,126.54 L247.93,127.85 L248.11,129.16 L248.29,130.48 L248.47,131.79 L248.64,133.11 L248.81,134.43 L248.98,135.74 L249.15,137.06 L249.32,138.38 L249.48,139.69 L249.64,141.01 L249.80,142.33 L249.96,143.65 L250.12,144.97 L250.27,146.28 L250.42,147.60 L250.57,148.92 L250.72,150.24 L250.86,151.56 L251.00,152.88 L251.13,154.20 L251.26,155.52 L251.39,156.84 L251.51,158.16 L251.63,159.49 L251.74,160.81 L251.86,162.13 L251.97,163.46 L252.09,164.78 L252.20,166.10 L252.32,167.42 L252.43,168.75 L252.55,170.07 L252.68,171.39 L252.80,172.71 L252.93,174.03 L253.07,175.35 L253.21,176.67 L253.36,177.99 L253.51,179.30 L253.68,180.62 L253.86,181.93 L254.06,183.24 L254.28,184.55 L254.50,185.86 L254.74,187.17 L254.98,188.47 L255.22,189.78 L255.47,191.09 L255.71,192.39 L255.94,193.70 L256.17,195.01 L256.38,196.32 L256.58,197.63 L256.77,198.94 L256.93,200.26 L257.08,201.57 L257.22,202.89 L257.36,204.21 L257.49,205.53 L257.61,206.85 L257.73,208.17 L257.84,209.49 L257.95,210.82 L258.05,212.14 L258.15,213.47 L258.25,214.79 L258.35,216.12 L258.45,217.44 L258.55,218.77 L258.64,220.09 L258.74,221.42 L258.84,222.74 L258.95,224.07 L259.05,225.39 L259.16,226.71 L259.28,228.04 L259.40,229.36 L259.52,230.68 L259.65,232.00 L259.79,233.32 L259.94,234.63 L260.09,235.95 L260.26,237.27 L260.44,238.59 L260.63,239.90 L260.85,241.21 L261.10,242.51 L261.38,243.82 L261.72,245.15 L262.14,246.41 L262.70,247.55 L263.61,248.68 L264.70,249.24 L265.97,249.40 L267.37,249.49 L268.70,249.49 L270.02,249.46 L271.35,249.39 L272.67,249.30 L273.99,249.18 L275.31,249.04 L276.63,248.88 L277.95,248.72 L279.27,248.55 L280.59,248.37 L281.91,248.19 L283.23,248.02 L284.55,247.85 L285.87,247.70 L287.18,247.54 L288.50,247.37 L289.82,247.21 L291.14,247.03 L292.45,246.86 L293.77,246.68 L295.08,246.49 L296.40,246.30 L297.71,246.10 L299.02,245.90 L300.33,245.69 L301.64,245.48 L302.95,245.26 L304.26,245.03 L305.56,244.80 L306.86,244.55 L308.16,244.29 L309.46,244.01 L310.76,243.73 L312.05,243.43 L313.35,243.13 L314.64,242.82 L315.93,242.51 L317.22,242.19 L318.51,241.88 L319.80,241.56 L321.09,241.24 L322.38,240.91 L323.67,240.58 L324.96,240.25 L326.24,239.90 L327.52,239.54 L328.79,239.16 L330.06,238.77 L331.31,238.37 L332.56,237.94 L333.79,237.48 L335.03,237.00 L336.25,236.50 L337.48,235.98 L338.69,235.44 L339.91,234.88 L341.11,234.31 L342.31,233.73 L343.51,233.14 L344.70,232.54 L345.88,231.94 L347.06,231.33 L348.23,230.72 L349.40,230.10 L350.57,229.47 L351.73,228.83 L352.89,228.17 L354.04,227.51 L355.18,226.83 L356.32,226.15 L357.46,225.45 L358.59,224.75 L359.71,224.04 L360.83,223.32 L361.94,222.60 L363.05,221.87 L364.15,221.13 L365.22,220.36 L366.29,219.56 L367.35,218.76 L368.41,217.96 L369.48,217.17 L370.56,216.41 L371.66,215.66 L372.76,214.92 L373.87,214.19 L374.98,213.46 L376.09,212.74 L377.21,212.02 L378.32,211.29 L379.45,210.59 L380.59,209.92 L381.76,209.29 L382.96,208.70 L384.20,208.28 L385.50,207.93 L386.81,207.71 L388.12,207.63 L389.42,207.56 L390.73,207.49 L392.04,207.42 L393.35,207.36 L394.66,207.31 L395.98,207.25 L397.29,207.20 L398.61,207.15 L399.92,207.11 L401.24,207.07 L402.57,207.03 L403.89,207.00 L405.21,206.97 L406.54,206.94 L407.87,206.91 L409.20,206.89 L410.54,206.87 L411.87,206.85 L413.21,206.84 L414.55,206.83 L415.90,206.82 L417.24,206.81 L418.59,206.80 L419.95,206.80 L421.30,206.80" stroke="#000000" stroke-width="2.7"/>
<path d="M59.50,237.30 L62.00,237.00 L64.00,235.70 L67.20,232.70 L363.20,51.70 L380.50,51.70 L421.50,100.90" stroke="#808080" stroke-width="1.8"/>
</g>
<path d="M343.9,74.7 H377.5" stroke="#808080" stroke-width="1.7" fill="none"/><path d="M382.8,74.7 L373.2,69.9 L376.6,74.7 L373.2,79.5 Z" fill="#808080"/>
<path d="M59.5,9.4 V262.5 M59.5,262.5 H421.5 M59.5,9.4 H421.5 M59.5,262.50 h-5.3 M59.5,237.19 h-2.6 M59.5,211.88 h-5.3 M59.5,186.57 h-2.6 M59.5,161.26 h-5.3 M59.5,135.95 h-2.6 M59.5,110.64 h-5.3 M59.5,85.33 h-2.6 M59.5,60.02 h-5.3 M59.5,34.71 h-2.6 M59.5,9.40 h-5.3 M59.50,262.5 v4.0 M59.50,9.4 v-4.0 M111.21,262.5 v2.1 M111.21,9.4 v-2.1 M162.93,262.5 v4.0 M162.93,9.4 v-4.0 M214.64,262.5 v2.1 M214.64,9.4 v-2.1 M266.36,262.5 v4.0 M266.36,9.4 v-4.0 M318.07,262.5 v2.1 M318.07,9.4 v-2.1 M369.79,262.5 v4.0 M369.79,9.4 v-4.0 M421.50,262.5 v2.1 M421.50,9.4 v-2.1" stroke="#2a2a2a" stroke-width="1.1" fill="none"/>
<path d="M421.5,9.4 V262.5 M421.5,262.50 h4.2 M421.5,241.41 h2.2 M421.5,220.32 h4.2 M421.5,199.22 h2.2 M421.5,178.13 h4.2 M421.5,157.04 h2.2 M421.5,135.95 h4.2 M421.5,114.86 h2.2 M421.5,93.77 h4.2 M421.5,72.68 h2.2 M421.5,51.58 h4.2 M421.5,30.49 h2.2 M421.5,9.40 h4.2" stroke="#808080" stroke-width="1.0" fill="none"/>
<text x="50.4" y="267.00" font-size="15.6" text-anchor="end" fill="#000" stroke="#000" stroke-width=".3">80</text>
<text x="50.4" y="216.50" font-size="15.6" text-anchor="end" fill="#000" stroke="#000" stroke-width=".3">85</text>
<text x="50.4" y="166.00" font-size="15.6" text-anchor="end" fill="#000" stroke="#000" stroke-width=".3">90</text>
<text x="50.4" y="115.50" font-size="15.6" text-anchor="end" fill="#000" stroke="#000" stroke-width=".3">95</text>
<text x="50.4" y="65.00" font-size="15.6" text-anchor="end" fill="#000" stroke="#000" stroke-width=".3">100</text>
<text x="50.4" y="14.50" font-size="15.6" text-anchor="end" fill="#000" stroke="#000" stroke-width=".3">105</text>
<text x="59.00" y="283" font-size="15.6" text-anchor="middle" fill="#000" stroke="#000" stroke-width=".3">2</text>
<text x="162.43" y="283" font-size="15.6" text-anchor="middle" fill="#000" stroke="#000" stroke-width=".3">3</text>
<text x="265.86" y="283" font-size="15.6" text-anchor="middle" fill="#000" stroke="#000" stroke-width=".3">4</text>
<text x="369.29" y="283" font-size="15.6" text-anchor="middle" fill="#000" stroke="#000" stroke-width=".3">5</text>
<text x="429.8" y="267.10" font-size="15.6" letter-spacing="0.4" text-anchor="start" fill="#808080" stroke="#808080" stroke-width=".3">0</text>
<text x="429.8" y="225.07" font-size="15.6" letter-spacing="0.4" text-anchor="start" fill="#808080" stroke="#808080" stroke-width=".3">200</text>
<text x="429.8" y="183.03" font-size="15.6" letter-spacing="0.4" text-anchor="start" fill="#808080" stroke="#808080" stroke-width=".3">400</text>
<text x="429.8" y="141.00" font-size="15.6" letter-spacing="0.4" text-anchor="start" fill="#808080" stroke="#808080" stroke-width=".3">600</text>
<text x="429.8" y="98.97" font-size="15.6" letter-spacing="0.4" text-anchor="start" fill="#808080" stroke="#808080" stroke-width=".3">800</text>
<text x="429.8" y="56.93" font-size="15.6" letter-spacing="0.4" text-anchor="start" fill="#808080" stroke="#808080" stroke-width=".3">1000</text>
<text x="429.8" y="14.90" font-size="15.6" letter-spacing="0.4" text-anchor="start" fill="#808080" stroke="#808080" stroke-width=".3">1200</text>
<text x="240.3" y="310.5" font-size="17.5" text-anchor="middle" fill="#000" stroke="#000" stroke-width=".3">TOS / h</text>
<text transform="translate(16.6,136) rotate(-90)" font-size="17.5" text-anchor="middle" fill="#000" stroke="#000" stroke-width=".3">Relative mass / %</text>
<text transform="translate(484.6,136.2) rotate(-90)" font-size="17.85" text-anchor="middle" fill="#808080" stroke="#808080" stroke-width=".3">Temperature / °C</text>
<path d="M533.8,78.65 H560.9" stroke="#48b4f5" stroke-width="2.9"/>
<text fill="#000" stroke="#000" stroke-width=".3" font-size="17.7"><tspan x="574" y="83.75" letter-spacing="0.5">Ga</tspan><tspan x="599.2" y="88.45" font-size="12.6" letter-spacing="0.4">12</tspan><tspan x="613.3" y="83.75" letter-spacing="0.75">Ni/SiC</tspan></text>
<path d="M533.8,100.95 H560.9" stroke="#0818bc" stroke-width="2.9"/>
<text fill="#000" stroke="#000" stroke-width=".3" font-size="17.7"><tspan x="574" y="106.23" letter-spacing="0.5">Ga</tspan><tspan x="599.2" y="110.93" font-size="12.6" letter-spacing="0.4">45</tspan><tspan x="613.3" y="106.23" letter-spacing="0.75">Ni/SiC</tspan></text>
<path d="M533.8,123.25 H560.9" stroke="#c20008" stroke-width="2.9"/>
<text fill="#000" stroke="#000" stroke-width=".3" font-size="17.7"><tspan x="574" y="128.71" letter-spacing="0.5">Ga</tspan><tspan x="599.2" y="133.41" font-size="12.6" letter-spacing="0.4">47</tspan><tspan x="613.3" y="128.71" letter-spacing="0.75">Co/SiC</tspan></text>
<path d="M533.8,145.55 H560.9" stroke="#fb8c08" stroke-width="2.9"/>
<text fill="#000" stroke="#000" stroke-width=".3" font-size="17.7"><tspan x="574" y="151.19" letter-spacing="0.5">Ga</tspan><tspan x="599.2" y="155.89" font-size="12.6" letter-spacing="0.4">52</tspan><tspan x="613.3" y="151.19" letter-spacing="0.75">Cu/SiC</tspan></text>
<path d="M533.8,167.85 H560.9" stroke="#138013" stroke-width="2.9"/>
<text fill="#000" stroke="#000" stroke-width=".3" font-size="17.7"><tspan x="574" y="173.67" letter-spacing="0.5">Ga</tspan><tspan x="599.2" y="178.37" font-size="12.6" letter-spacing="0.4">44</tspan><tspan x="613.3" y="173.67" letter-spacing="0.75">Fe/SiC</tspan></text>
<path d="M533.8,190.15 H560.9" stroke="#000000" stroke-width="2.9"/>
<text fill="#000" stroke="#000" stroke-width=".3" font-size="17.7"><tspan x="574" y="196.15" letter-spacing="0.5">SiC</tspan></text>
</svg>
</body></html>
